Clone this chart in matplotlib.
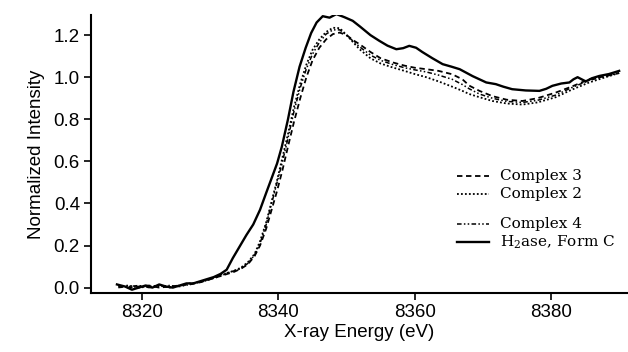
import matplotlib
matplotlib.use("Agg")
import matplotlib.pyplot as plt
from matplotlib.lines import Line2D

# H2ase, Form C (solid)
energy_h2ase = [8316.3, 8317.5, 8318.5, 8319.5, 8320.5, 8321.5, 8322.5, 8323.5, 8324.5, 8325.5,
                8326.5, 8327.5, 8328.5, 8329.5, 8330.5, 8331.5, 8332.4, 8333.3, 8334.3, 8335.3,
                8336.3, 8337.3, 8338.2, 8339.0, 8339.8, 8340.5, 8341.4, 8342.2, 8343.1, 8344.0,
                8344.8, 8345.6, 8346.5, 8347.5, 8348.5, 8349.7, 8350.9, 8352.0, 8353.5, 8354.8,
                8356.0, 8357.3, 8358.3, 8359.2, 8360.2, 8361.1, 8362.6, 8364.1, 8365.4, 8366.6,
                8368.5, 8370.5, 8371.9, 8373.0, 8374.3, 8376.3, 8378.3, 8379.3, 8380.2, 8381.5,
                8382.7, 8383.3, 8383.9, 8384.5, 8385.1, 8386.0, 8387.1, 8388.5, 8390.0]
int_h2ase = [0.015, 0.005, -0.01, 0.0, 0.01, 0.0, 0.015, 0.005, 0.0, 0.01,
             0.02, 0.02, 0.03, 0.04, 0.05, 0.065, 0.085, 0.14, 0.195, 0.25,
             0.30, 0.37, 0.45, 0.52, 0.59, 0.67, 0.80, 0.93, 1.05, 1.14,
             1.21, 1.26, 1.29, 1.283, 1.30, 1.285, 1.268, 1.24, 1.20, 1.173,
             1.15, 1.133, 1.138, 1.149, 1.14, 1.12, 1.09, 1.062, 1.05, 1.038,
             1.005, 0.975, 0.967, 0.955, 0.943, 0.937, 0.935, 0.945, 0.959, 0.97,
             0.975, 0.99, 1.0, 0.99, 0.98, 0.995, 1.006, 1.015, 1.03]

# model complexes share one energy grid
energy_cx = [8316.5, 8318.0, 8319.5, 8321.0, 8322.5, 8324.0, 8325.5, 8327.0, 8328.5, 8330.0,
             8331.5, 8332.5, 8333.5, 8334.5, 8335.5, 8336.5, 8337.3, 8338.2, 8339.0, 8339.8,
             8340.6, 8341.4, 8342.3, 8343.2, 8344.1, 8345.0, 8346.0, 8347.0, 8348.0, 8349.0,
             8350.0, 8351.0, 8351.9, 8353.5, 8355.0, 8356.8, 8358.5, 8360.0, 8361.7, 8363.5,
             8365.5, 8367.0, 8368.0, 8369.5, 8371.4, 8373.5, 8375.8, 8378.0, 8380.7, 8383.0,
             8385.6, 8388.0, 8390.0]
int_cx3 = [0.01, 0.0, 0.005, 0.01, 0.0, 0.005, 0.01, 0.015, 0.025, 0.04,
           0.055, 0.065, 0.075, 0.09, 0.11, 0.15, 0.20, 0.28, 0.37, 0.46,
           0.56, 0.67, 0.79, 0.90, 1.00, 1.08, 1.14, 1.18, 1.205, 1.212,
           1.20, 1.175, 1.157, 1.12, 1.09, 1.07, 1.055, 1.045, 1.038, 1.03,
           1.014, 0.99, 0.96, 0.935, 0.91, 0.893, 0.887, 0.90, 0.927, 0.955,
           0.99, 1.005, 1.02]
int_cx2 = [0.005, 0.01, 0.0, 0.005, 0.01, 0.0, 0.01, 0.02, 0.025, 0.04,
           0.055, 0.07, 0.08, 0.095, 0.12, 0.16, 0.22, 0.31, 0.41, 0.51,
           0.62, 0.73, 0.86, 0.97, 1.06, 1.13, 1.18, 1.215, 1.235, 1.233,
           1.20, 1.165, 1.133, 1.09, 1.065, 1.046, 1.03, 1.015, 1.00, 0.98,
           0.955, 0.935, 0.92, 0.905, 0.887, 0.875, 0.87, 0.88, 0.905, 0.94,
           0.975, 1.00, 1.02]
int_cx4 = [0.0, 0.005, 0.01, 0.0, 0.005, 0.01, 0.005, 0.015, 0.03, 0.04,
           0.06, 0.07, 0.08, 0.09, 0.115, 0.155, 0.21, 0.30, 0.40, 0.50,
           0.60, 0.71, 0.84, 0.95, 1.04, 1.11, 1.165, 1.205, 1.225, 1.225,
           1.20, 1.17, 1.145, 1.105, 1.08, 1.06, 1.045, 1.035, 1.025, 1.01,
           0.99, 0.965, 0.945, 0.92, 0.90, 0.885, 0.88, 0.89, 0.915, 0.95,
           0.985, 1.005, 1.02]

labels = ["Complex 3", "Complex 2", "Complex 4", "H$_2$ase, Form C"]
x_ticks = [8320, 8340, 8360, 8380]
y_ticks = [0.0, 0.2, 0.4, 0.6, 0.8, 1.0, 1.2]

plt.rcParams["font.family"] = ["Liberation Sans", "DejaVu Sans"]
plt.rcParams["mathtext.fontset"] = "dejavuserif"

fig = plt.figure(figsize=(6.28, 3.52), dpi=100)
ax = fig.add_axes([0.145, 0.168, 0.855, 0.789])

styles = [
    dict(linestyle=(0, (3, 2)), linewidth=1.3),
    dict(linestyle=(0, (1, 1.2)), linewidth=1.3),
    dict(linestyle=(0, (3, 1.5, 1, 1.5, 1, 1.5)), linewidth=1.1),
    dict(linestyle="-", linewidth=1.7),
]
ax.plot(energy_cx, int_cx3, color="black", **styles[0])
ax.plot(energy_cx, int_cx2, color="black", **styles[1])
ax.plot(energy_cx, int_cx4, color="black", **styles[2])
ax.plot(energy_h2ase, int_h2ase, color="black", **styles[3])

ax.set_xlim(8312.5, 8391.3)
ax.set_ylim(-0.025, 1.295)
ax.set_xticks(x_ticks)
ax.set_yticks(y_ticks)
ax.set_yticklabels([f"{v:.1f}" for v in y_ticks])
ax.tick_params(direction="out", length=5, width=1.2, labelsize=13.5, pad=3)
for side in ["top", "right"]:
    ax.spines[side].set_visible(False)
for side in ["left", "bottom"]:
    ax.spines[side].set_linewidth(1.5)
ax.set_xlabel("X-ray Energy (eV)", fontsize=13.5, labelpad=2)
ax.set_ylabel("Normalized Intensity", fontsize=13.5, labelpad=6)

# hand placed legend, uneven spacing as in the figure
legend_y = [176, 194, 224, 242]
for lab, st, ypx in zip(labels, styles, legend_y):
    yf = 1 - ypx / 352
    fig.add_artist(Line2D([457 / 628, 489 / 628], [yf, yf], color="black",
                          transform=fig.transFigure, **st))
    fig.text(500 / 628, yf, lab, fontsize=11, family="DejaVu Serif", va="center", ha="left")

fig.savefig("out.png", dpi=100)
